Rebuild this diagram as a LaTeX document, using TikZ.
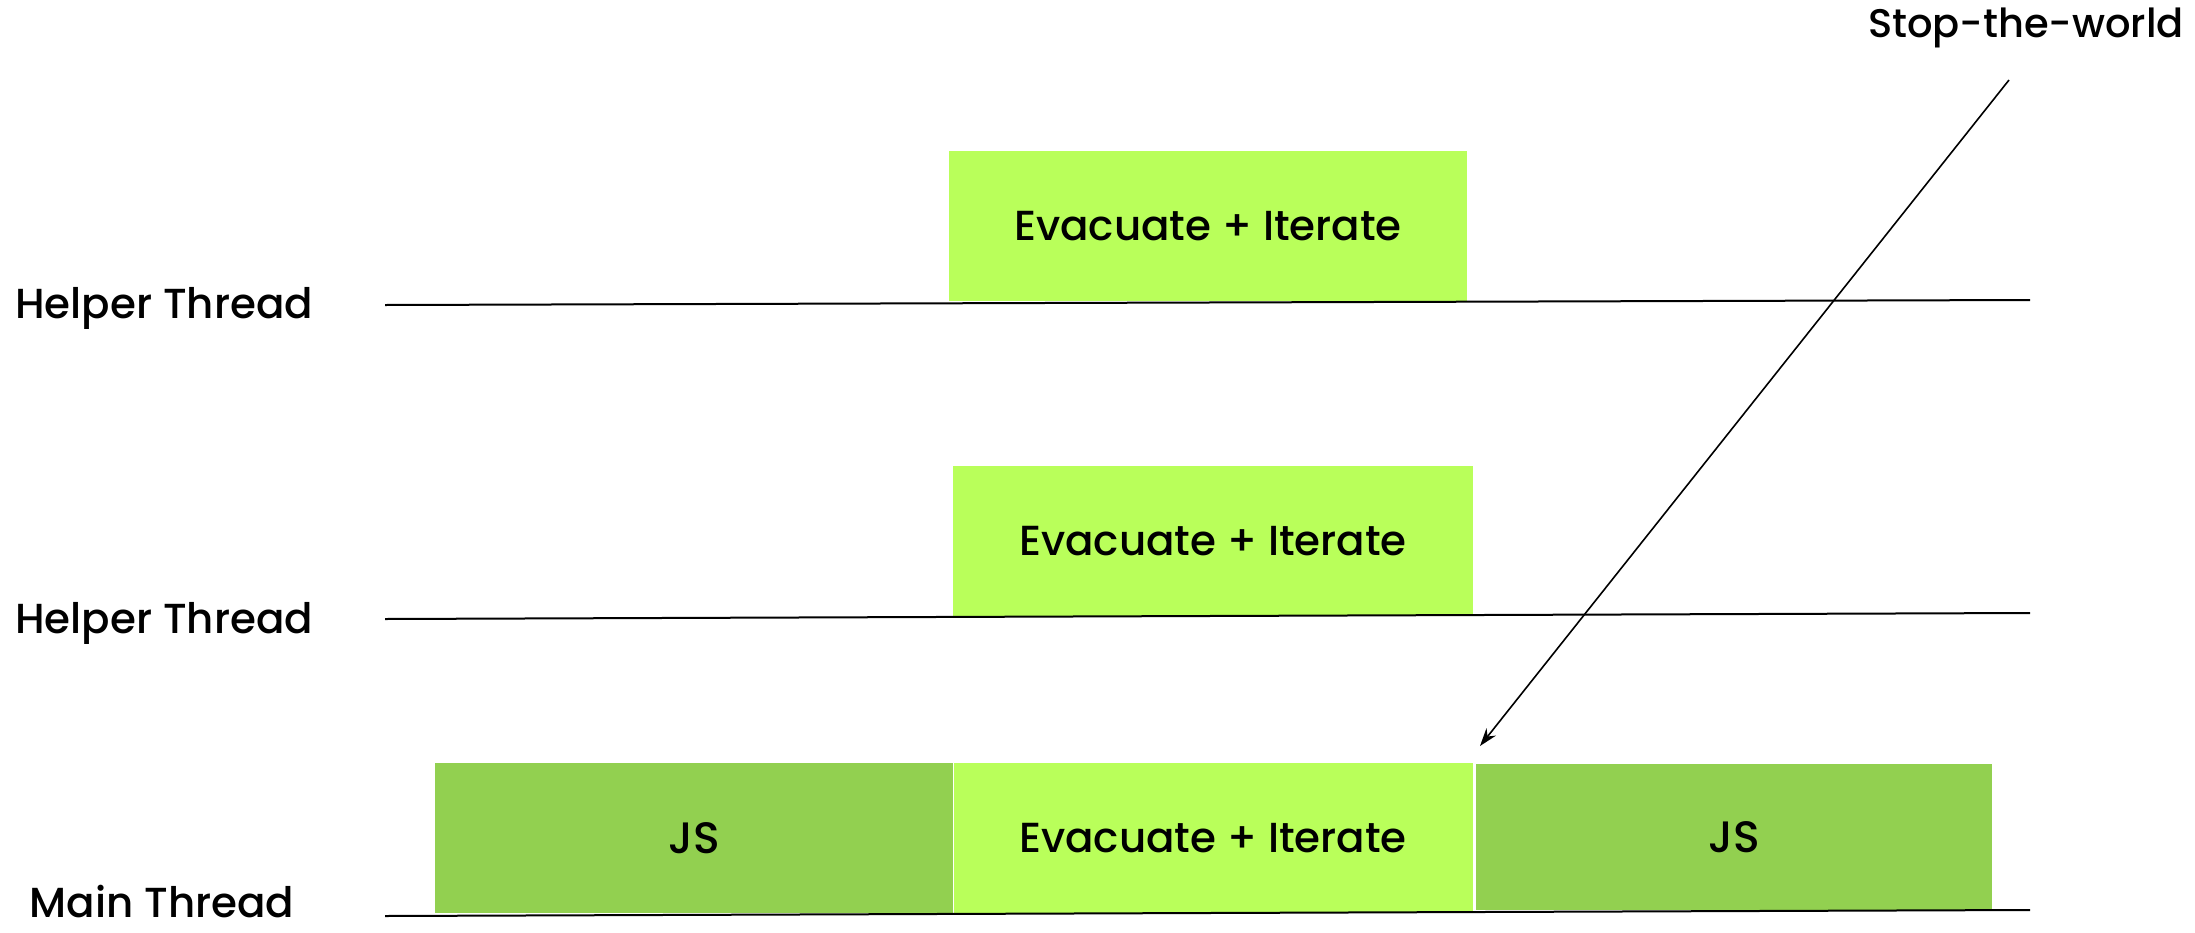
\documentclass[tikz,border=0pt]{standalone}
\usepackage{fontspec}
\setmainfont{Poppins}[UprightFont=* Medium, BoldFont=* SemiBold]
\usetikzlibrary{arrows.meta}
\definecolor{lightgreen}{HTML}{B9FF5A}
\definecolor{jsgreen}{HTML}{92D050}
\begin{document}
\begin{tikzpicture}[x=1pt,y=-1pt,
  phase/.style={fill=lightgreen, draw=none, inner sep=0pt, font=\fontsize{42}{48}\selectfont},
  jsbox/.style={fill=jsgreen, draw=none, inner sep=0pt, font=\fontsize{44}{50}\selectfont},
  threadlabel/.style={font=\fontsize{42}{48}\selectfont, inner sep=0pt, anchor=base},
  timeline/.style={line width=2pt, black},
  callout/.style={line width=1.6pt, -{Stealth[length=18pt,width=12pt]}}]
\useasboundingbox (0,0) rectangle (2195,932);
% boxes
\node[phase, minimum width=518pt, minimum height=150pt] (h1) at (1208,226) {Evacuate + Iterate};
\node[phase, minimum width=520pt, minimum height=150pt] (h2) at (1213,541) {Evacuate + Iterate};
\node[jsbox, minimum width=518pt, minimum height=150pt] (js1) at (694,838) {JS};
\node[phase, minimum width=519pt, minimum height=150pt] (m) at (1213,838) {Evacuate + Iterate};
\node[jsbox, minimum width=516pt, minimum height=146pt] (js2) at (1734,837) {JS};
% labels
\node[threadlabel] (l1) at (164,318) {Helper Thread};
\node[threadlabel] (l2) at (164,633) {Helper Thread};
\node[threadlabel] (l3) at (162,917) {Main Thread};
\node[threadlabel, font=\fontsize{40}{46}\selectfont] (stw) at (2026,37) {Stop-the-world};
% timelines
\coordinate (a1) at (385,305); \coordinate (b1) at (2030,300);
\coordinate (a2) at (385,619); \coordinate (b2) at (2030,613);
\coordinate (a3) at (385,916); \coordinate (b3) at (2030,910);
\draw[timeline] (a1) -- (b1);
\draw[timeline] (a2) -- (b2);
\draw[timeline] (a3) -- (b3);
% callout
\coordinate (cs) at (2009,80);
\coordinate (ce) at (1480,746);
\draw[callout] (cs) -- (ce);
\end{tikzpicture}
\end{document}
